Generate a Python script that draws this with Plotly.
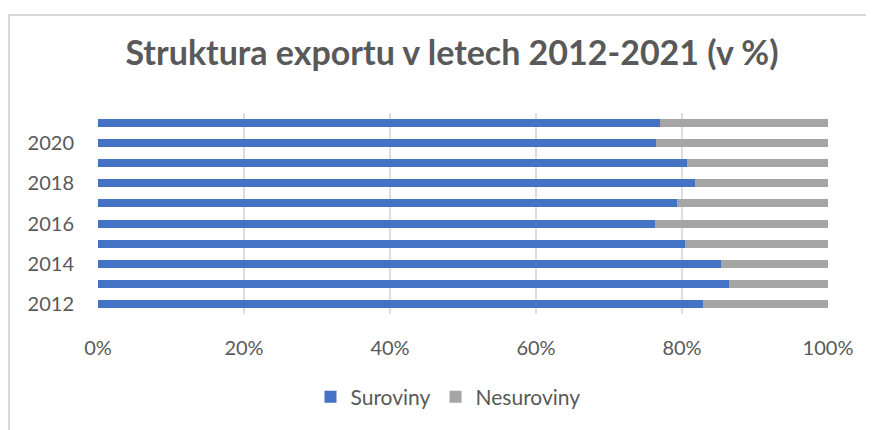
import plotly.graph_objects as go

years = ["2012", "2013", "2014", "2015", "2016", "2017", "2018", "2019", "2020", "2021"]
suroviny = [82.9, 86.4, 85.3, 80.4, 76.3, 79.3, 81.8, 80.7, 76.5, 77.0]
nesuroviny = [round(100 - v, 1) for v in suroviny]
tick_years = ["2012", "2014", "2016", "2018", "2020"]
x_ticks = [0, 20, 40, 60, 80, 100]
x_labels = ["0%", "20%", "40%", "60%", "80%", "100%"]

FONT = "Lato"
TXT = "#595959"

fig = go.Figure()
fig.add_trace(go.Bar(y=years, x=suroviny, name="Suroviny", orientation="h",
                     marker=dict(color="#4472C4", line_width=0)))
fig.add_trace(go.Bar(y=years, x=nesuroviny, name="Nesuroviny", orientation="h",
                     marker=dict(color="#A5A5A5", line_width=0)))

OFF = 8  # page body margin
W, H = 874 - OFF, 430 - OFF
L, R, T, B = 98 - OFF, 828 - OFF, 113 - OFF, 316 - OFF
pw, ph = R - L, B - T

fig.update_layout(
    width=W, height=H,
    barmode="stack", bargap=0.6,
    margin=dict(l=L, r=W - R, t=T, b=H - B, pad=0),
    paper_bgcolor="white", plot_bgcolor="white",
    title=dict(text="<b>Struktura exportu v letech 2012-2021 (v %)</b>",
               x=(452 - OFF) / W, xanchor="center", y=1 - (53 - OFF) / H, yanchor="middle",
               font=dict(family=FONT, size=34, color=TXT)),
    legend=dict(orientation="h", x=(448 - OFF - L) / pw, xanchor="center",
                y=-(400 - 316) / ph, yanchor="middle",
                font=dict(family=FONT, size=21, color=TXT), traceorder="normal"),
    showlegend=True,
    font=dict(family=FONT, color=TXT),
)
fig.update_xaxes(range=[0, 100], tickvals=x_ticks, ticktext=x_labels,
                 showgrid=True, gridcolor="#DDDDDD", gridwidth=2,
                 zeroline=False, showline=False,
                 tickfont=dict(family=FONT, size=20, color=TXT),
                 ticks="", ticklabelstandoff=20)
fig.update_yaxes(categoryorder="array", categoryarray=years,
                 tickvals=tick_years, ticktext=tick_years,
                 showgrid=False, zeroline=False, showline=False,
                 tickfont=dict(family=FONT, size=20, color=TXT),
                 ticks="", ticklabelstandoff=23)

# chart frame border (extends past right/bottom edges as in reference)
fig.add_shape(type="rect", xref="paper", yref="paper",
              x0=(9 - OFF - L) / pw, x1=(W + 10 - L) / pw,
              y0=-(H + 10 - B) / ph, y1=1 + (T - (14 - OFF)) / ph,
              line=dict(color="#D9D9D9", width=2), fillcolor="rgba(0,0,0,0)",
              layer="below")

fig.write_html("out.html")
